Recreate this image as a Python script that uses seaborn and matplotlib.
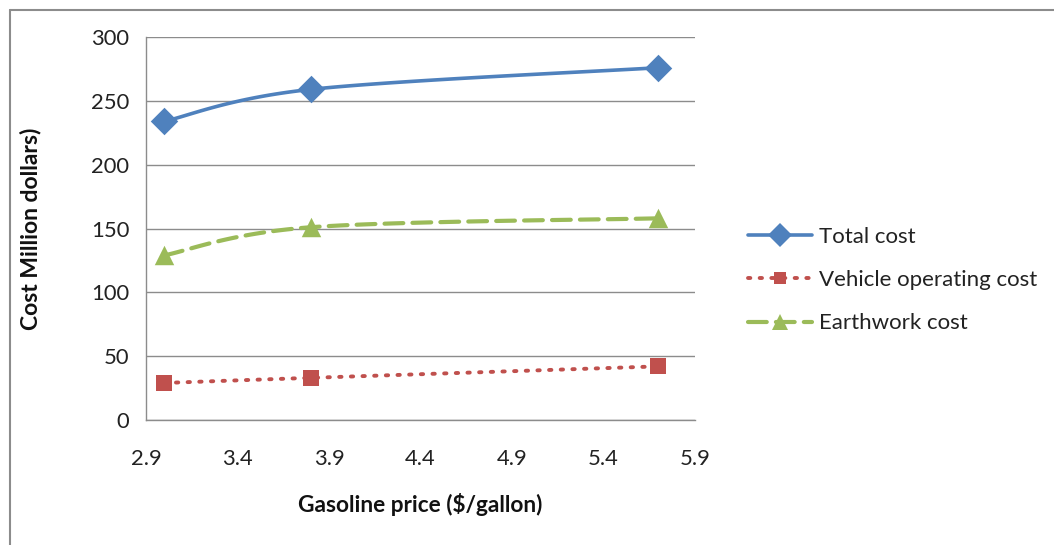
import numpy as np
import pandas as pd
import seaborn as sns
import matplotlib.pyplot as plt
from matplotlib.lines import Line2D

# Cost results for three gasoline price scenarios
gas_price = [3.0, 3.8, 5.7]
total_cost = [234, 259, 276]
vehicle_operating_cost = [29, 33, 42]
earthwork_cost = [129, 151, 158]

x_ticks = [2.9, 3.4, 3.9, 4.4, 4.9, 5.4, 5.9]
y_ticks = [0, 50, 100, 150, 200, 250, 300]

series_names = ["Total cost", "Vehicle operating cost", "Earthwork cost"]
series_values = [total_cost, vehicle_operating_cost, earthwork_cost]
colors = ["#4F81BD", "#C0504D", "#9BBB59"]
markers = ["D", "s", "^"]
marker_sizes = [14, 11, 14]


def smooth_curve(xs, ys, steps=40):
    """Cardinal (Catmull-Rom style) Bezier smoothing through the points."""
    xs = np.asarray(xs, float)
    ys = np.asarray(ys, float)
    px = np.concatenate([[xs[0]], xs, [xs[-1]]])
    py = np.concatenate([[ys[0]], ys, [ys[-1]]])
    out_x, out_y = [], []
    t = np.linspace(0, 1, steps)
    for i in range(1, len(px) - 2):
        p0 = np.array([px[i], py[i]])
        p3 = np.array([px[i + 1], py[i + 1]])
        c1 = p0 + (np.array([px[i + 1], py[i + 1]]) - np.array([px[i - 1], py[i - 1]])) / 6
        c2 = p3 - (np.array([px[i + 2], py[i + 2]]) - np.array([px[i], py[i]])) / 6
        b = ((1 - t) ** 3)[:, None] * p0 + (3 * (1 - t) ** 2 * t)[:, None] * c1 \
            + (3 * (1 - t) * t ** 2)[:, None] * c2 + (t ** 3)[:, None] * p3
        out_x.extend(b[:, 0])
        out_y.extend(b[:, 1])
    return np.array(out_x), np.array(out_y)


sns.set_style("white")
plt.rcParams["font.family"] = ["Lato", "DejaVu Sans"]

fig = plt.figure(figsize=(10.54, 5.45), dpi=100)
ax = fig.add_axes([0.1385, 0.2294, 0.5209, 0.7026])

line_styles = [
    dict(linestyle="-", linewidth=2.6),
    dict(linestyle=(0, (0.6, 2.4)), linewidth=2.8, dash_capstyle="round"),
    dict(linestyle=(0, (4.5, 2.2)), linewidth=3.0, dash_capstyle="round"),
]

handles = []
for name, vals, color, mk, ms, ls in zip(series_names, series_values, colors,
                                         markers, marker_sizes, line_styles):
    sx, sy = smooth_curve(gas_price, vals)
    curve = pd.DataFrame({"x": sx, "y": sy})
    sns.lineplot(data=curve, x="x", y="y", ax=ax, color=color, sort=False,
                 estimator=None, zorder=3, **ls)
    pts = pd.DataFrame({"x": gas_price, "y": vals})
    sns.scatterplot(data=pts, x="x", y="y", ax=ax, color=color, marker=mk,
                    s=ms ** 2, linewidth=0, zorder=4)
    handles.append(Line2D([], [], color=color, marker=mk, markersize=ms * 0.85,
                          markeredgewidth=0, **ls))

ax.set_xlim(2.9, 5.9)
ax.set_ylim(0, 300)
ax.set_xticks(x_ticks)
ax.set_yticks(y_ticks)
ax.set_xticklabels([f"{v:.1f}" for v in x_ticks])
ax.set_yticklabels([str(v) for v in y_ticks])

grid_color = "#8C8C8C"
ax.yaxis.grid(True, color=grid_color, linewidth=1.0)
ax.xaxis.grid(False)
ax.set_axisbelow(True)
for side in ["top", "right"]:
    ax.spines[side].set_visible(False)
for side in ["left", "bottom"]:
    ax.spines[side].set_color(grid_color)
    ax.spines[side].set_linewidth(1.0)

ax.tick_params(axis="both", which="major", labelsize=15.8, colors="#222222",
               length=6, width=1.0, direction="out")
ax.tick_params(axis="both", color=grid_color)
ax.tick_params(axis="y", pad=6)
ax.tick_params(axis="x", pad=15)

ax.set_xlabel("Gasoline price ($/gallon)", fontsize=16.3, fontweight="bold",
              color="#111111", va="center")
ax.set_ylabel("Cost Million dollars)", fontsize=16.5, fontweight="bold",
              color="#111111", va="center")
ax.xaxis.set_label_coords(0.5, -0.222)
ax.yaxis.set_label_coords(-0.211, 0.5)

fig.legend(handles, series_names, loc="center left",
           bbox_to_anchor=(0.7097, 0.4862), frameon=False, fontsize=16,
           handlelength=2.9, handletextpad=0.3, labelspacing=1.05,
           borderpad=0, borderaxespad=0, labelcolor="#222222")

# Chart frame (top and left edges)
fig.add_artist(Line2D([10 / 1054, 1.0], [1 - 10 / 545, 1 - 10 / 545],
                      transform=fig.transFigure, color="#8C8C8C", linewidth=1.5))
fig.add_artist(Line2D([10 / 1054, 10 / 1054], [0.0, 1 - 10 / 545],
                      transform=fig.transFigure, color="#8C8C8C", linewidth=1.5))

fig.savefig("out.png", dpi=100, facecolor="white")
